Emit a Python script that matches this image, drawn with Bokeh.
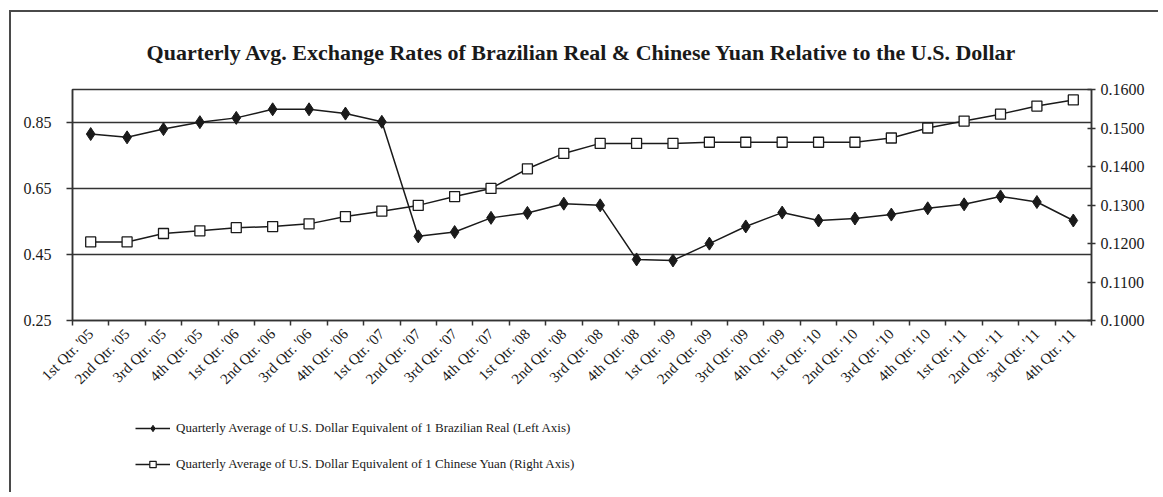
from bokeh.plotting import figure
from bokeh.layouts import column
from bokeh.models import (Range1d, LinearAxis, FixedTicker, NumeralTickFormatter, Legend, LegendItem)
from bokeh.embed import file_html
from bokeh.resources import INLINE

quarters = ["1st Qtr. '05", "2nd Qtr. '05", "3rd Qtr. '05", "4th Qtr. '05",
            "1st Qtr. '06", "2nd Qtr. '06", "3rd Qtr. '06", "4th Qtr. '06",
            "1st Qtr. '07", "2nd Qtr. '07", "3rd Qtr. '07", "4th Qtr. '07",
            "1st Qtr. '08", "2nd Qtr. '08", "3rd Qtr. '08", "4th Qtr. '08",
            "1st Qtr. '09", "2nd Qtr. '09", "3rd Qtr. '09", "4th Qtr. '09",
            "1st Qtr. '10", "2nd Qtr. '10", "3rd Qtr. '10", "4th Qtr. '10",
            "1st Qtr. '11", "2nd Qtr. '11", "3rd Qtr. '11", "4th Qtr. '11"]

real = [0.815, 0.805, 0.830, 0.851, 0.864, 0.890, 0.890, 0.877,
        0.852, 0.505, 0.518, 0.561, 0.576, 0.604, 0.599, 0.435,
        0.432, 0.483, 0.535, 0.577, 0.553, 0.559, 0.571, 0.590,
        0.602, 0.626, 0.609, 0.553]

yuan = [0.1204, 0.1204, 0.1226, 0.1233, 0.1241, 0.1244, 0.1251, 0.1270,
        0.1284, 0.1299, 0.1322, 0.1343, 0.1394, 0.1434, 0.1460, 0.1460,
        0.1460, 0.1463, 0.1463, 0.1463, 0.1463, 0.1463, 0.1474, 0.1500,
        0.1518, 0.1536, 0.1557, 0.1573]

left_ticks = [0.25, 0.45, 0.65, 0.85]
right_ticks = [0.10, 0.11, 0.12, 0.13, 0.14, 0.15, 0.16]

title = "Quarterly Avg. Exchange Rates of Brazilian Real & Chinese Yuan Relative to the U.S. Dollar"
label_real = "Quarterly Average of U.S. Dollar Equivalent of 1 Brazilian Real (Left Axis)"
label_yuan = "Quarterly Average of U.S. Dollar Equivalent of 1 Chinese Yuan (Right Axis)"

FONT = "Liberation Serif"
INK = "#1a1a1a"

n = len(quarters)
xpos = [i + 0.5 for i in range(n)]          # centre of each quarter's slot
bounds = list(range(n + 1))                  # slot boundaries

p = figure(width=1147, height=390, x_range=Range1d(0, n),
           y_range=Range1d(0.25, 0.95), output_backend="svg", toolbar_location=None,
           x_axis_location=None, y_axis_location=None,
           min_border_left=61, min_border_right=67, min_border_top=76, min_border_bottom=82)

p.title.text = title
p.title.align = "center"
p.title.text_font = FONT
p.title.text_font_size = "22px"
p.title.text_font_style = "bold"
p.title.text_color = INK
p.title.standoff = 50

p.extra_y_ranges = {"yuan": Range1d(0.10, 0.16)}

p.outline_line_color = "#333333"
p.outline_line_width = 1.5

# left axis
ly = LinearAxis(ticker=FixedTicker(ticks=left_ticks), formatter=NumeralTickFormatter(format="0.00"))
ly.axis_line_color = "#333333"
ly.axis_line_width = 1.5
ly.major_tick_in = 0
ly.major_tick_out = 6
ly.major_tick_line_color = "#333333"
ly.major_tick_line_width = 1.5
ly.minor_tick_line_color = None
ly.major_label_text_font = FONT
ly.major_label_text_font_size = "16px"
ly.major_label_text_color = INK
ly.major_label_standoff = 15
p.add_layout(ly, "left")

# right axis
ry = LinearAxis(y_range_name="yuan", ticker=FixedTicker(ticks=right_ticks),
                formatter=NumeralTickFormatter(format="0.0000"))
ry.axis_line_color = "#333333"
ry.axis_line_width = 1.5
ry.major_tick_in = 4
ry.major_tick_out = 4
ry.major_tick_line_color = "#333333"
ry.major_tick_line_width = 1.5
ry.minor_tick_line_color = None
ry.major_label_text_font = FONT
ry.major_label_text_font_size = "16px"
ry.major_label_text_color = INK
ry.major_label_standoff = 5
p.add_layout(ry, "right")

# tick marks at category boundaries (no labels)
bx = LinearAxis(ticker=FixedTicker(ticks=bounds),
                major_label_overrides={b: "" for b in bounds})
bx.axis_line_color = "#333333"
bx.axis_line_width = 1.5
bx.major_tick_in = 0
bx.major_tick_out = 5
bx.major_tick_line_color = "#333333"
bx.major_tick_line_width = 1.5
bx.minor_tick_line_color = None
bx.major_label_text_font_size = "13px"
bx.major_label_standoff = 0
p.add_layout(bx, "below")

# quarter labels at slot centres
cx = LinearAxis(ticker=FixedTicker(ticks=xpos),
                major_label_overrides={x: q for x, q in zip(xpos, quarters)})
cx.axis_line_color = None
cx.major_tick_line_color = None
cx.minor_tick_line_color = None
cx.major_label_orientation = 0.785398
cx.major_label_text_font = FONT
cx.major_label_text_font_size = "15px"
cx.major_label_text_color = INK
cx.major_label_standoff = 0
p.add_layout(cx, "below")

p.ygrid.ticker = FixedTicker(ticks=left_ticks)
p.ygrid.grid_line_color = "#333333"
p.ygrid.grid_line_width = 1.5
p.xgrid.grid_line_color = None

p.line(xpos, real, line_color=INK, line_width=1.5)
p.scatter(xpos, real, marker="diamond", size=13, fill_color=INK, line_color=INK)
p.line(xpos, yuan, line_color=INK, line_width=1.5, y_range_name="yuan")
p.scatter(xpos, yuan, marker="square", size=10, fill_color="white", line_color=INK,
          line_width=1.3, y_range_name="yuan")

# legend strip below the chart (its glyphs sit outside its visible range)
p2 = figure(width=1147, height=90, x_range=Range1d(0, n), y_range=Range1d(5, 6),
            output_backend="svg", toolbar_location=None, min_border=0,
            x_axis_location=None, y_axis_location=None)
p2.outline_line_color = None
p2.grid.grid_line_color = None
r1 = p2.line(xpos, real, line_color=INK, line_width=1.5)
s1 = p2.scatter(xpos, real, marker="diamond", size=11, fill_color=INK, line_color=INK)
r2 = p2.line(xpos, yuan, line_color=INK, line_width=1.5)
s2 = p2.scatter(xpos, yuan, marker="square", size=8, fill_color="white", line_color=INK,
                line_width=1.2)

legend = Legend(items=[LegendItem(label=label_real, renderers=[r1, s1]),
                       LegendItem(label=label_yuan, renderers=[r2, s2])],
                location=(63, 20), orientation="vertical")
legend.label_text_font = FONT
legend.label_text_font_size = "13px"
legend.label_text_color = INK
legend.glyph_width = 35
legend.glyph_height = 16
legend.label_height = 16
legend.spacing = 20
legend.padding = 0
legend.margin = 0
legend.label_standoff = 6
legend.border_line_color = None
legend.background_fill_alpha = 0
p2.add_layout(legend, "center")

layout = column(p, p2, spacing=0)
layout.margin = (10, 0, 0, 9)
layout.styles = {"border-left": "2px solid #4a4a4a", "border-top": "2px solid #4a4a4a"}

open("out.html", "w").write(file_html(layout, INLINE))
